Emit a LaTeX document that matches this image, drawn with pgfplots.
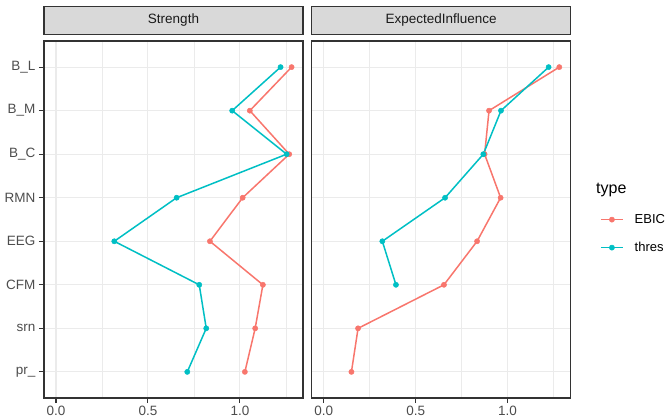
\documentclass[border=0pt]{standalone}
\usepackage{pgfplots}
\pgfplotsset{compat=1.18}
\usepackage{fontspec}
\setmainfont{Liberation Sans}
\definecolor{ebic}{HTML}{F8766D}
\definecolor{thres}{HTML}{00BFC4}
\definecolor{gridc}{HTML}{EBEBEB}
\definecolor{framec}{HTML}{333333}
\definecolor{tickl}{HTML}{4D4D4D}
\definecolor{stripbg}{HTML}{D9D9D9}
\definecolor{striptext}{HTML}{1A1A1A}
\pgfplotsset{panel/.style={
  scale only axis, width=259bp, height=357bp,
  xmin=-0.065, xmax=1.343, ymin=0.4, ymax=8.6,
  xtick={0,0.5,1}, xticklabels={0.0,0.5,1.0},
  minor xtick={0.25,0.75,1.25},
  ytick={1,...,8},
  xtick pos=bottom, ytick pos=left,
  grid=both,
  major grid style={gridc, line width=1.1bp},
  minor grid style={gridc, line width=0.55bp},
  axis line style={framec, line width=1.2bp},
  tick align=outside, major tick length=5bp, minor tick length=0pt,
  major tick style={framec, line width=1.1bp},
  ticklabel style={font=\fontsize{13.5bp}{15bp}\selectfont, text=tickl},
  title style={at={(0.5,1)}, anchor=south, fill=stripbg, draw=framec, line width=1.2bp,
    minimum width=259bp, minimum height=28bp, inner sep=0pt,
    font=\fontsize{13.5bp}{15bp}\selectfont, text=striptext},
  ebicst/.style={color=ebic, line width=1.5bp, mark=*, mark size=2.6bp, mark options={fill=ebic, draw=ebic, line width=0.5bp}},
  thresst/.style={color=thres, line width=1.5bp, mark=*, mark size=2.6bp, mark options={fill=thres, draw=thres, line width=0.5bp}},
}}
\begin{document}
\begin{tikzpicture}
\begin{axis}[panel, at={(44bp,22bp)}, anchor=south west, title={Strength},
  yticklabels={pr\_, srn, CFM, EEG, RMN, B\_C, B\_M, B\_L}]
\addplot[ebicst] coordinates {(1.281,8) (1.054,7) (1.268,6) (1.015,5) (0.837,4) (1.125,3) (1.083,2) (1.027,1)};
\addplot[thresst] coordinates {(1.221,8) (0.958,7) (1.254,6) (0.656,5) (0.317,4) (0.779,3) (0.817,2) (0.714,1)};
\end{axis}
\begin{axis}[panel, at={(311.7bp,22bp)}, anchor=south west, title={ExpectedInfluence},
  yticklabels={}, ytick style={draw=none},
  legend style={at={(1.113,0.517)}, anchor=north west, draw=none, fill=none, inner sep=0pt,
    font=\fontsize{13bp}{15bp}\selectfont, row sep=16bp, column sep=11bp, cells={anchor=west},
    nodes={inner sep=0pt, text height=9.4bp, text depth=2.6bp}},
  legend image code/.code={\draw[mark repeat=2,mark phase=2,#1] plot coordinates {(0bp,0bp) (11bp,0bp) (22bp,0bp)};}]
\addplot[ebicst] coordinates {(1.281,8) (0.899,7) (0.875,6) (0.962,5) (0.834,4) (0.654,3) (0.187,2) (0.151,1)};
\addlegendentry{EBIC}
\addplot[thresst] coordinates {(1.223,8) (0.964,7) (0.868,6) (0.660,5) (0.319,4) (0.393,3)};
\addlegendentry{thres}
\end{axis}
\node[anchor=west, font=\fontsize{16bp}{18bp}\selectfont, inner sep=0pt] at (596bp,230bp) {type};
\pgfresetboundingbox
\path (0,0) rectangle (667bp,420bp);
\end{tikzpicture}
\end{document}
